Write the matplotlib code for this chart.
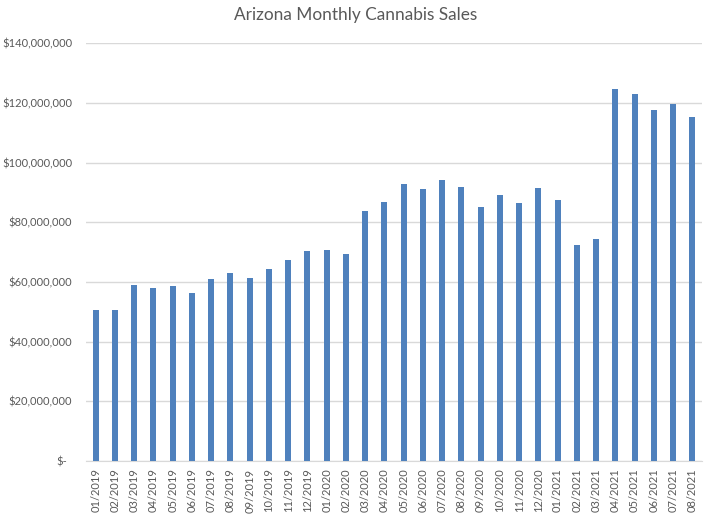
import numpy as np
import matplotlib.pyplot as plt
from matplotlib.ticker import FuncFormatter

plt.rcParams['font.family'] = ['Lato', 'DejaVu Sans']

months = ['01/2019', '02/2019', '03/2019', '04/2019', '05/2019', '06/2019',
          '07/2019', '08/2019', '09/2019', '10/2019', '11/2019', '12/2019',
          '01/2020', '02/2020', '03/2020', '04/2020', '05/2020', '06/2020',
          '07/2020', '08/2020', '09/2020', '10/2020', '11/2020', '12/2020',
          '01/2021', '02/2021', '03/2021', '04/2021', '05/2021', '06/2021',
          '07/2021', '08/2021']
# monthly sales in millions of dollars
sales_m = [50.6, 50.6, 59.1, 58.0, 58.6, 56.3, 61.0, 63.0, 61.3, 64.3, 67.3, 70.3,
           70.7, 69.4, 83.8, 86.8, 92.9, 91.2, 94.2, 91.8, 85.1, 89.2, 86.5, 91.5,
           87.5, 72.4, 74.4, 124.7, 123.1, 117.7, 119.7, 115.3]
sales = np.array(sales_m) * 1e6

fig = plt.figure(figsize=(7.08, 5.16), dpi=100)
ax = fig.add_axes([0.1215, 0.107, 0.87, 0.809])

x = np.arange(len(months))
ax.bar(x, sales, width=0.32, color='#4F81BD', zorder=3)

ax.set_xlim(-0.5, len(months) - 0.5)
ax.set_ylim(0, 140e6)
ax.set_yticks(np.arange(0, 140e6 + 1, 20e6))

def money(v, pos):
    if v == 0:
        return '$-'
    return '${:,.0f}'.format(v)

ax.yaxis.set_major_formatter(FuncFormatter(money))
ax.set_xticks(x)
ax.set_xticklabels(months, rotation=90)

ax.grid(axis='y', color='#D9D9D9', linewidth=1, zorder=0)
for s in ['top', 'right', 'left']:
    ax.spines[s].set_visible(False)
ax.spines['bottom'].set_color('#D9D9D9')
ax.tick_params(axis='both', length=0, colors='#595959', labelsize=8)
ax.tick_params(axis='y', pad=10)
ax.tick_params(axis='x', pad=5.5)
# the zero label sits a little further left, like Excel's accounting format
ax.get_yticklabels()[0].set_x(-0.008)

fig.text(0.502, 0.97, 'Arizona Monthly Cannabis Sales', ha='center', va='center',
         fontsize=12.4, color='#595959')

fig.savefig('out.png', dpi=100)
